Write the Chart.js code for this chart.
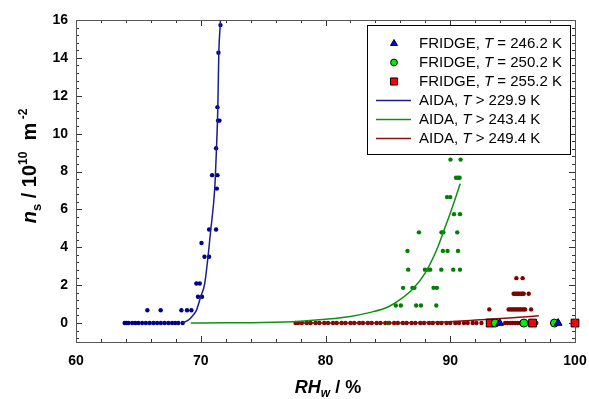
<!DOCTYPE html>
<html>
<head>
<meta charset="utf-8">
<script src="https://cdn.jsdelivr.net/npm/chart.js@4/dist/chart.umd.min.js"></script>
<style>
  html, body { margin: 0; padding: 0; background: #fff; }
  canvas { display: block; }
</style>
</head>
<body>
<canvas id="chartNs" width="589" height="399"></canvas>
<script>
// ticks
const xTicks = [60, 70, 80, 90, 100];
const yTicks = [0, 2, 4, 6, 8, 10, 12, 14, 16];

// legend texts
const legendNames = ['FRIDGE, ', 'FRIDGE, ', 'FRIDGE, ', 'AIDA, ', 'AIDA, ', 'AIDA, '];
const legendTails = [' = 246.2 K', ' = 250.2 K', ' = 255.2 K', ' > 229.9 K', ' > 243.4 K', ' > 249.4 K'];

// AIDA points [RHw, ns]
const aidaBluePts = [
  [63.9, 0], [64.05, 0], [64.2, 0], [64.5, 0], [64.75, 0], [65.0, 0], [65.3, 0], [65.6, 0], [65.9, 0],
  [66.2, 0], [66.5, 0], [66.8, 0], [67.1, 0], [67.4, 0], [67.7, 0], [67.95, 0], [68.2, 0], [68.55, 0],
  [65.72, 0.68], [66.79, 0.68], [68.45, 0.68], [68.9, 0.68], [69.25, 0.68],
  [69.78, 1.39], [70.1, 1.39], [69.65, 2.09], [69.92, 2.09], [70.3, 3.5], [70.67, 3.5],
  [70.06, 4.23], [70.67, 4.94], [71.23, 4.94], [71.29, 7.1], [70.91, 7.81], [71.34, 7.81],
  [71.23, 9.23], [71.39, 10.69], [71.5, 10.69], [71.34, 11.4], [71.42, 14.27], [71.58, 15.73]
];
const aidaGreenPts = [
  [85.0, 0], [85.64, 0.93], [86.04, 0.93], [87.27, 0.93], [87.65, 0.93], [88.88, 0.93],
  [86.22, 1.86], [86.97, 1.86], [87.13, 1.86], [88.66, 1.86], [88.93, 1.86],
  [86.63, 2.82], [87.97, 2.82], [88.21, 2.82], [88.39, 2.82], [89.28, 2.82], [90.24, 2.82], [90.78, 2.82],
  [86.57, 3.81], [89.41, 3.81], [89.78, 3.81], [90.62, 3.81],
  [87.49, 4.79], [89.3, 4.79], [89.44, 4.79], [90.56, 4.79],
  [90.3, 5.75], [90.78, 5.75], [89.74, 6.65], [90.0, 6.65],
  [90.46, 7.67], [90.62, 7.67], [90.75, 7.67], [90.02, 8.63], [90.83, 8.63]
];
const aidaRedPts = [
  [77.6, 0], [77.8, 0], [78.1, 0], [78.5, 0], [78.8, 0], [79.2, 0], [79.5, 0], [79.9, 0], [80.2, 0],
  [80.6, 0], [80.9, 0], [81.3, 0], [81.6, 0], [82.0, 0], [82.3, 0], [82.7, 0], [83.0, 0], [83.4, 0],
  [83.7, 0], [84.1, 0], [84.4, 0], [84.8, 0], [85.1, 0], [85.5, 0], [85.8, 0], [86.2, 0], [86.5, 0],
  [86.9, 0], [87.2, 0], [87.6, 0], [87.9, 0], [88.3, 0], [88.6, 0], [89.0, 0], [89.3, 0], [89.7, 0],
  [90.0, 0], [90.4, 0], [90.7, 0], [91.1, 0], [91.4, 0], [91.8, 0], [92.1, 0], [92.5, 0],
  [94.4, 0], [94.6, 0], [94.8, 0], [95.0, 0], [95.2, 0], [95.4, 0], [95.6, 0], [95.8, 0], [96.0, 0],
  [96.2, 0], [96.5, 0], [96.9, 0],
  [93.13, 0.72], [94.68, 0.72], [94.8, 0.72], [94.92, 0.72], [95.04, 0.72], [95.16, 0.72], [95.28, 0.72],
  [95.4, 0.72], [95.52, 0.72], [95.64, 0.72], [95.76, 0.72], [95.9, 0.72], [96.0, 0.72], [96.48, 0.72],
  [95.08, 1.55], [95.2, 1.55], [95.32, 1.55], [95.44, 1.55], [95.56, 1.55], [95.68, 1.55], [95.8, 1.55],
  [95.89, 1.55], [96.29, 1.55],
  [95.3, 2.37], [95.8, 2.37]
];

// AIDA fit curves
const fitBlue = [
  [68.5, 0], [69.0, 0.15], [69.3, 0.35], [69.65, 0.67], [70.0, 1.4], [70.32, 2.1], [70.8, 4.9],
  [71.12, 7.1], [71.26, 9.2], [71.37, 11.4], [71.45, 14.3], [71.58, 16.0], [71.62, 16.8]
];
const fitGreen = [
  [69.2, 0], [72, 0.01], [75, 0.03], [78, 0.1], [80, 0.2], [82, 0.35], [83.5, 0.55], [85, 0.85],
  [86, 1.25], [87, 1.8], [88, 2.65], [89, 4.0], [89.5, 4.9], [90, 5.8], [90.8, 7.35]
];
const fitRed = [
  [77.6, 0], [84, 0.005], [87, 0.02], [89.2, 0.05], [92.4, 0.17], [95, 0.28], [97.1, 0.39]
];

// FRIDGE
const fridgeBlue = [[93.96, 0], [98.65, 0]];
const fridgeGreen = [[93.6, 0], [95.9, 0], [98.35, 0]];
const fridgeRed = [[93.2, 0], [96.6, 0], [100.0, 0]];

const FONT = "'Liberation Sans', Arial, Helvetica, sans-serif";
const toXY = (pts) => pts.map(p => ({ x: p[0], y: p[1] }));

const scatterSet = (pts, color, order) => ({
  data: toXY(pts), showLine: false, pointStyle: 'circle', pointRadius: 2.2,
  pointBackgroundColor: color, pointBorderWidth: 0, order: order
});
const lineSet = (pts, color) => ({
  data: toXY(pts), showLine: true, pointRadius: 0, borderColor: color, borderWidth: 1.5,
  cubicInterpolationMode: 'monotone', order: 4
});
const fridgeSet = (pts, style, fill, radius, order) => ({
  data: toXY(pts), showLine: false, pointStyle: style, pointRadius: radius,
  pointBackgroundColor: fill, pointBorderColor: '#000', pointBorderWidth: 1, clip: false, order: order
});

const legendMarks = [
  { style: 'triangle', fill: '#0000ff', radius: 4 },
  { style: 'circle', fill: '#00ee00', radius: 3.4 },
  { style: 'rect', fill: '#ff0000', radius: 5 },
  { line: '#1c1c8c' },
  { line: '#109010' },
  { line: '#8b1010' }
];

// frame with inward ticks on all sides
const frameTicks = {
  id: 'frameTicks',
  afterDatasetsDraw(chart) {
    const ctx = chart.ctx;
    const a = chart.chartArea;
    const xs = chart.scales.x, ys = chart.scales.y;
    ctx.save();
    ctx.strokeStyle = '#333';
    ctx.lineWidth = 1;
    ctx.beginPath();
    for (let k = 30; k <= 50; k++) {
      const px = Math.round(xs.getPixelForValue(k * 2)) + 0.5;
      const len = xTicks.includes(k * 2) ? 6 : 3;
      ctx.moveTo(px, a.bottom); ctx.lineTo(px, a.bottom - len);
      ctx.moveTo(px, a.top); ctx.lineTo(px, a.top + len);
    }
    for (let k = -2; k <= 40; k++) {
      const v = Math.round(k * 4) / 10;
      const py = Math.round(ys.getPixelForValue(v)) + 0.5;
      const len = yTicks.includes(v) ? 6 : 3;
      ctx.moveTo(a.left, py); ctx.lineTo(a.left + len, py);
      ctx.moveTo(a.right, py); ctx.lineTo(a.right - len, py);
    }
    ctx.stroke();
    ctx.strokeStyle = '#555';
    ctx.strokeRect(Math.round(a.left) + 0.5, Math.round(a.top) + 0.5,
      Math.round(a.right - a.left), Math.round(a.bottom - a.top));
    ctx.restore();
  }
};

const drawRich = (ctx, segs, x, y) => {
  let w = 0;
  segs.forEach(s => { ctx.font = s.font; w += ctx.measureText(s.text).width; });
  let cx = x - w / 2;
  segs.forEach(s => {
    ctx.font = s.font;
    ctx.fillText(s.text, cx, y + (s.dy || 0));
    cx += ctx.measureText(s.text).width;
  });
};

const titlesLegend = {
  id: 'titlesLegend',
  afterDraw(chart) {
    const ctx = chart.ctx;
    ctx.save();
    ctx.fillStyle = '#000';
    ctx.textBaseline = 'alphabetic';
    ctx.textAlign = 'left';

    // x title
    drawRich(ctx, [
      { text: 'RH', font: `italic bold 18px ${FONT}` },
      { text: 'w', font: `italic bold 12px ${FONT}`, dy: 4 },
      { text: ' / %', font: `bold 18px ${FONT}` }
    ], 328, 393);

    // y title
    ctx.save();
    ctx.translate(36, 166);
    ctx.rotate(-Math.PI / 2);
    drawRich(ctx, [
      { text: 'n', font: `italic bold 20px ${FONT}` },
      { text: 's', font: `bold 13px ${FONT}`, dy: 5 },
      { text: ' / 10', font: `bold 20px ${FONT}` },
      { text: '10', font: `bold 12px ${FONT}`, dy: -9 },
      { text: '  m', font: `bold 20px ${FONT}` },
      { text: ' -2', font: `bold 12px ${FONT}`, dy: -9 }
    ], 0, 0);
    ctx.restore();

    // legend box
    ctx.fillStyle = '#fff';
    ctx.fillRect(367.5, 25.5, 203, 129);
    ctx.strokeStyle = '#000';
    ctx.lineWidth = 1;
    ctx.strokeRect(367.5, 25.5, 203, 129);

    legendMarks.forEach((m, i) => {
      const y = 43.5 + i * 19;
      if (m.line) {
        ctx.strokeStyle = m.line;
        ctx.lineWidth = 1.5;
        ctx.beginPath();
        ctx.moveTo(376, y);
        ctx.lineTo(411, y);
        ctx.stroke();
      } else {
        ctx.fillStyle = m.fill;
        ctx.strokeStyle = '#000';
        ctx.lineWidth = 1;
        Chart.helpers.drawPoint(ctx, { pointStyle: m.style, radius: m.radius, borderWidth: 1 }, 394, y);
      }
      ctx.fillStyle = '#000';
      ctx.textBaseline = 'middle';
      let tx = 419;
      ctx.font = `15px ${FONT}`;
      ctx.fillText(legendNames[i], tx, y);
      tx += ctx.measureText(legendNames[i]).width;
      ctx.font = `italic 15px ${FONT}`;
      ctx.fillText('T', tx, y);
      tx += ctx.measureText('T').width;
      ctx.font = `15px ${FONT}`;
      ctx.fillText(legendTails[i], tx, y);
    });
    ctx.restore();
  }
};

const chartNs = new Chart(document.getElementById('chartNs'), {
  type: 'scatter',
  data: {
    datasets: [
      fridgeSet(fridgeBlue, 'triangle', '#0000ff', 4.5, 1),
      fridgeSet(fridgeGreen, 'circle', '#00ee00', 4, 2),
      fridgeSet(fridgeRed, 'rect', '#ff0000', 5.5, 3),
      lineSet(fitBlue, '#1c1c8c'),
      lineSet(fitGreen, '#109010'),
      lineSet(fitRed, '#8b1010'),
      scatterSet(aidaBluePts, '#00008b', 5),
      scatterSet(aidaGreenPts, '#008000', 5),
      scatterSet(aidaRedPts, '#800000', 5)
    ]
  },
  options: {
    responsive: false,
    animation: false,
    devicePixelRatio: 1,
    layout: { padding: { top: 20, right: 14, left: 0, bottom: 0 } },
    plugins: { legend: { display: false }, tooltip: { enabled: false } },
    scales: {
      x: {
        type: 'linear', min: 60, max: 100,
        grid: { display: false, drawTicks: false },
        border: { display: false },
        afterBuildTicks: (scale) => { scale.ticks = xTicks.map(v => ({ value: v })); },
        afterFit: (scale) => { scale.height = 57; scale.paddingLeft = 0; scale.paddingRight = 0; },
        ticks: { color: '#000', padding: 11, maxRotation: 0, font: { family: FONT, size: 14, weight: 'bold' } }
      },
      y: {
        type: 'linear', min: -1, max: 16,
        grid: { display: false, drawTicks: false },
        border: { display: false },
        afterBuildTicks: (scale) => { scale.ticks = yTicks.map(v => ({ value: v })); },
        afterFit: (scale) => { scale.width = 76; scale.paddingTop = 0; scale.paddingBottom = 0; },
        ticks: { color: '#000', padding: 8, font: { family: FONT, size: 14, weight: 'bold' } }
      }
    }
  },
  plugins: [frameTicks, titlesLegend]
});
</script>
</body>
</html>
